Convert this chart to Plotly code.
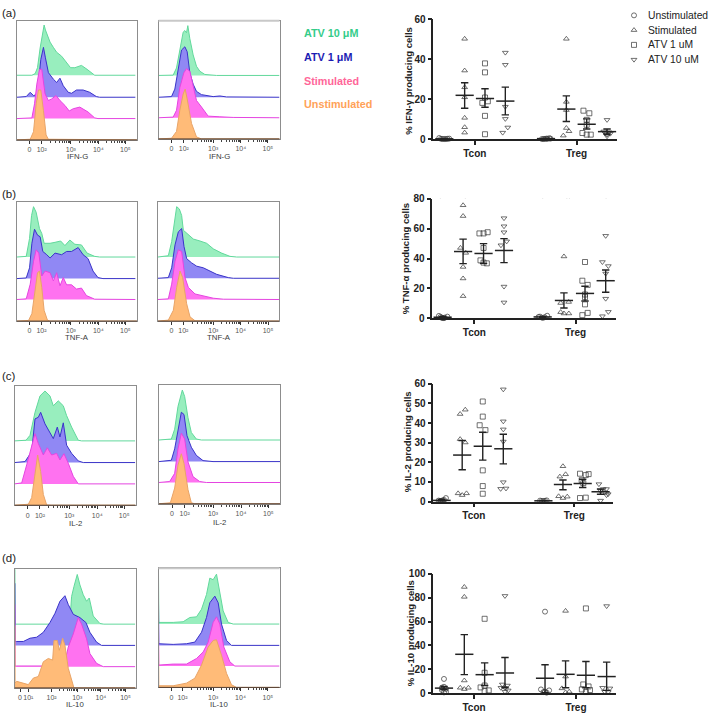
import plotly.graph_objects as go
import math

W, H = 709, 719
FONT = "Liberation Sans"
GROUPS = ["Unstimulated", "Stimulated", "ATV 1 uM", "ATV 10 uM"]
HIST_LABELS = ["ATV 10 μM", "ATV 1 μM", "Stimulated", "Unstimulated"]

# ---------- histogram data: channel (X) and normalised count (H) ----------
AL_G_X = [0,45,55,62,70,78,82,86,92,100,110,120,135,150,162,175,195,212,235,358]
AL_G_H = [0,0,5,23,83,135,153,138,123,101,85,70,58,38,23,23,30,18,0,0]
AL_B_X = [0,28,40,50,58,65,72,80,86,95,110,120,130,140,155,165,180,200,220,240,250,358]
AL_B_H = [0,2,15,5,8,45,115,152,120,75,55,45,58,35,15,12,22,22,15,2,0,0]
AL_P_X = [0,45,53,60,68,75,85,95,105,118,130,145,158,170,190,205,215,235,245,358]
AL_P_H = [0,2,45,105,150,150,75,55,60,70,55,40,23,30,35,27,20,2,0,0]
AL_O_X = [0,40,50,58,65,72,80,88,95,362]
AL_O_H = [0,2,25,110,152,152,90,15,2,0]

AR_G_X = [0,44,54,64,74,79,84,88,94,104,114,124,139,174,363]
AR_G_H = [0,1,23,83,133,138,131,153,113,63,28,13,3,0,0]
AR_B_X = [0,39,49,59,69,79,86,94,104,114,129,164,184,204,363]
AR_B_H = [0,2,25,90,145,155,140,75,40,18,8,2,4,1,0]
AR_P_X = [0,44,54,64,76,84,94,102,114,129,149,184,224,363]
AR_P_H = [0,2,23,93,138,151,143,108,53,33,5,3,1,0]
AR_O_X = [0,39,54,64,74,80,86,99,114,129,363]
AR_O_H = [0,2,23,88,138,153,123,48,6,0,0]

BL_G_X = [0,28,38,44,50,58,68,75,82,100,115,132,145,160,175,195,212,235,250,358]
BL_G_H = [0,2,57,127,154,137,87,72,42,42,45,49,35,52,39,37,12,2,0,0]
BL_B_X = [0,28,38,45,53,62,70,78,90,100,115,135,150,165,185,200,215,230,245,260,358]
BL_B_H = [0,2,33,108,151,133,128,83,73,63,78,73,83,83,95,73,61,23,3,0,0]
BL_P_X = [0,28,40,50,58,66,75,85,100,110,120,130,140,150,165,180,195,210,235,358]
BL_P_H = [0,2,47,117,152,142,72,87,82,57,82,42,67,45,45,32,35,12,1,0]
BL_O_X = [0,35,45,53,62,68,75,82,92,100,362]
BL_O_H = [0,2,23,83,148,153,103,33,3,0,0]

BR_G_X = [0,31,41,51,56,64,71,76,91,106,126,146,166,191,216,236,363]
BR_G_H = [0,4,47,127,154,147,127,82,67,55,49,42,25,12,2,0,0]
BR_B_X = [0,31,41,51,61,71,78,86,101,116,136,156,176,211,226,363]
BR_B_H = [0,2,32,102,142,152,97,60,47,37,32,22,12,2,0,0]
BR_P_X = [0,31,41,51,61,71,81,91,111,136,166,196,363]
BR_P_H = [0,2,47,117,152,147,67,37,17,12,4,1,0]
BR_O_X = [0,31,46,56,66,74,86,96,111,363]
BR_O_H = [0,3,33,103,153,133,53,13,1,0]

CL_G_X = [0,34,46,61,76,91,106,116,131,146,156,171,191,201,362]
CL_G_H = [0,2,17,87,137,152,137,107,122,107,77,42,2,0,0]
CL_B_X = [0,31,51,61,71,78,91,106,116,128,136,146,156,171,191,206,362]
CL_B_H = [0,3,33,133,138,153,118,93,73,108,78,121,53,28,5,0,0]
CL_P_X = [0,21,36,51,61,71,86,98,111,126,136,148,161,176,191,362]
CL_P_H = [0,3,58,118,153,123,88,110,88,93,73,92,63,23,0,0]
CL_O_X = [0,41,51,61,69,78,86,96,110,362]
CL_O_H = [0,3,23,93,153,103,33,1,0,0]

CR_G_X = [0,37,47,57,70,77,87,97,112,127,363]
CR_G_H = [0,3,33,103,153,133,68,23,3,0,0]
CR_B_X = [0,37,47,59,67,75,84,97,112,132,162,363]
CR_B_H = [0,4,39,104,151,144,79,44,19,3,0,0]
CR_P_X = [0,32,47,57,67,77,87,102,122,142,363]
CR_P_H = [0,3,28,103,151,133,63,18,3,0,0]
CR_O_X = [0,34,47,57,67,75,87,97,107,363]
CR_O_H = [0,3,48,118,153,123,43,3,0,0]

DL_G_X = [0,0,1,100,146,166,171,178,188,196,206,216,224,236,256,268,362]
DL_G_H = [0,190,0,0,2,10,85,115,152,120,90,70,80,25,2,0,0]
DL_B_X = [0,0,1,6,26,46,66,86,106,121,136,151,161,176,196,214,226,246,261,362]
DL_B_H = [0,190,12,12,12,22,25,40,70,98,135,152,125,95,85,70,40,10,0,0]
DL_P_X = [0,0,1,6,106,151,161,176,191,201,216,226,246,266,362]
DL_P_H = [0,190,2,2,2,15,60,100,150,130,85,40,10,0,0]
DL_O_X = [0,0,1,6,26,41,56,71,86,101,114,118,128,134,144,151,161,178,362]
DL_O_H = [0,190,15,20,15,10,30,35,80,90,85,145,145,115,152,130,60,0,0]

DR_G_X = [0,0,1,44,74,94,114,129,144,154,164,174,184,194,209,224,363]
DR_G_H = [0,160,5,5,7,20,22,45,90,140,135,152,100,40,5,0,0]
DR_B_X = [0,0,1,44,84,109,129,144,154,169,179,189,204,219,363]
DR_B_H = [0,130,5,3,5,10,40,85,130,150,130,65,15,0,0]
DR_P_X = [0,0,1,44,84,114,134,149,164,174,184,196,214,229,363]
DR_P_H = [0,130,3,6,6,23,43,73,133,150,128,58,13,0,0]
DR_O_X = [0,0,1,44,84,109,129,149,164,174,189,204,219,234,363]
DR_O_H = [0,130,5,5,13,28,68,123,143,145,98,43,8,0,0]

TICK_STD = ["0", "10²", "10³", "10⁴", "10⁵"]
TICK_DL = ["0", "10¹", "10²", "10³", "10⁴", "10⁵"]

# ---------- scatter data (% producing cells) ----------
A_VALS = [[0.6,0.2,0.1,0.1,0.1,0.2,0.3],[50.3,34.4,26,21,10.7,6,3.3],[38,33.5,20.9,19,18.2,11.7,2.5],[43.4,37.3,16.3,10.2,5.9,3.3],
          [0.1,0.1,0.2,0.3,0.2,0.5,0.3],[50.3,18.7,14.6,5.6,4,1.8],[14.3,13,9.7,7.2,3.1,2.3,2.3],[9.7,3.9,3.5,3.1,2.8,2.3,1.5]]
A_JIT = [[-0.25,-0.16,-0.08,0,0.08,0.16,0.24],[0,0,0,0,0,0,0],[0,0,0,0.14,-0.13,0,0],[0,0,0,0,0.12,-0.13],
         [-0.2,-0.12,-0.05,0.02,0.08,0.16,0.22],[0,0,0,0,0.13,-0.15],[-0.16,0.13,0,0,-0.21,0,0.2],[0,-0.16,0.1,-0.08,0.16,0,0]]
A_MEAN = [0.2,22,20.4,19.1,0.3,15.1,7.5,3.8]
A_UP = [0.3,28.3,25.3,26.1,0.4,21.7,10.2,5.1]
A_LO = [0.1,15.5,16,12.2,0.2,8.9,5.1,2.5]

B_VALS = [[1.7,1.0,0.5,0.3,0.2,0.5,1.2],[75.6,68.4,47.1,43.8,34.4,26.7,14.9],[56.8,56.8,57.6,47.1,38.8,37.3,36.8,9.2],[67,61.6,57.6,51.5,48.9,21.3,10.7],
          [1.0,1.2,0.3,0.8,1.8],[41.4,10.3,11,4.2,3.3,3.3],[37.7,25.2,22.4,16,14.2,9.4,2.2,3.7],[55.2,37.7,35,30,13.2,4.4,1.5]]
B_JIT = [[-0.18,-0.1,-0.05,0,0.06,0.1,0.23],[0,0,-0.13,0.13,0,0,0],[-0.2,0,0.2,0,-0.15,0,0.16],[0,0,0,0.13,-0.15,0,0],
         [-0.2,-0.13,0,0.1,0.22],[0,-0.16,0.23,-0.16,0,0.24],[0,-0.13,0.13,0,0,0,-0.13,0.13],[0,-0.16,0.13,0,0,0.13,-0.16]]
B_MEAN = [0.8,44.7,43.4,45.4,1.0,12,16.7,25.2]
B_UP = [1.2,53,50,53.3,1.4,17.1,21.5,32.4]
B_LO = [0.4,36.6,36.8,37.3,0.6,7,11.6,17.5]

C_VALS = [[0.5,0.4,0.3,0.5,0.6,0.8,1.8],[46.8,44.6,31.8,30.1,4.2,3.3,4.2],[51,43.3,38.9,36.4,15.9,7.9,4],[57.2,40.9,36.8,30.6,9.9,6.5,6.7],
          [0.5,0.3,0.3,0.4,0.6],[18,13.9,12.7,2.7,1.8,2.5],[14.2,13.5,14,10.9,9.4,1.8,2],[8.9,6.4,6.4,5.5,4.7,3.8,3.3,0.5]]
C_JIT = [[-0.15,-0.08,-0.03,0.02,0.07,0.12,0.21],[0.15,-0.1,-0.1,0.15,-0.2,0,0.21],[0,0,-0.15,0.13,0,0,0],[0,0,0,0,0,-0.13,0.13],
         [-0.16,-0.08,0,0.08,0.16],[0,0.13,-0.15,-0.21,0,0.21],[-0.13,0.15,0.29,-0.05,0.03,-0.13,0.15],[-0.08,0.13,0.29,0,0.21,0.37,0.29,0]]
C_MEAN = [0.6,23.7,28.2,26.9,0.4,8.7,9.2,5]
C_UP = [0.9,31.1,35.3,34.3,0.5,11,11.4,6.4]
C_LO = [0.3,16.2,21.1,19.2,0.3,6,7.2,3.7]

D_VALS = [[11.8,5.2,4.5,3.5,2.5,1,0.5],[89,80.7,10.5,4.4,3.3,4.4],[62.3,17,6.3,4.7,1.7,2.2],[81.5,7.2,6.3,4.4,4.4,2.2,1.1],
          [68.3,3,2.2,1.1,0.8,0.3],[68.9,13.8,3.9,1.1,0.5],[71,7.2,5.5,3,2.5,0.8],[73,4.4,3.9,1.1,0.8]]
D_JIT = [[0,0,-0.1,0.1,-0.1,0.1,0],[0,0,0,-0.2,0,0.2],[0,0,0,-0.2,0,0.2],[0,-0.13,0.12,-0.2,0,0.16,0],
         [0,-0.2,0.2,0,-0.08,0.08],[0,0,-0.18,0.18,0],[0,-0.13,0.13,-0.2,0.2,0],[0,-0.2,0.16,-0.1,0.08]]
D_MEAN = [4.1,32.5,15.4,16.8,12.4,15.7,14.9,13.8]
D_UP = [5.5,49,25.3,29.8,23.7,27,26.4,25.9]
D_LO = [2.8,15.4,6.3,4.4,0.3,4.4,4.4,2.2]

A_GX = [0,1,2,3,5,6,7,8]
B_GX = [0,1,2,3,4.89,5.93,6.96,7.97]
C_GX = [0,1,2,3,4.95,5.9,6.86,7.73]
D_GX = [0,1,2,3,4.97,5.98,6.98,8]

A_TICKS = [1.5,6.5]; B_TICKS = [1.55,6.5]; C_TICKS = [1.57,6.45]; D_TICKS = [1.48,6.49]
CELL_LABELS = ["Tcon","Treg"]

# ---------- styles / layout ----------
COL_FILL = ["#98EEBE","#9088F4","#FF72F0","#FFBB78"]
COL_LINE = ["#62D89C","#3A34C8","#E445E0","#E8A468"]
SYMS = ["circle-open","triangle-up-open","square-open","triangle-down-open"]
DARK = "#222222"

fig = go.Figure()
layout = {}
anns = []
shapes = []
axn = [0]

def new_axes(l, t, r, b):
    axn[0] += 1
    n = axn[0]
    xk, yk = ("xaxis%d" % n, "yaxis%d" % n) if n > 1 else ("xaxis", "yaxis")
    xr, yr = ("x%d" % n, "y%d" % n) if n > 1 else ("x", "y")
    layout[xk] = dict(domain=[l/W, r/W], anchor=yr)
    layout[yk] = dict(domain=[1-b/H, 1-t/H], anchor=xr)
    return xk, yk, xr, yr

def ann(px, py, text, size, color=DARK, bold=False, anchor="center", angle=0):
    anns.append(dict(x=px/W, y=1-py/H, xref="paper", yref="paper", text=text,
                     showarrow=False, xanchor=anchor, yanchor="middle", textangle=angle,
                     font=dict(family=FONT, size=size, color=color, weight="bold" if bold else "normal"),
                     borderpad=0, borderwidth=0))

def hist_panel(box, curves, bases, ticks, labels, title, title_y, top_light=False):
    l, t, r, b = box
    xk, yk, xr, yr = new_axes(l, t, r, b)
    for i, (cx, ch) in enumerate(curves):
        fig.add_trace(go.Scatter(x=cx, y=[bases[i]+v for v in ch], xaxis=xr, yaxis=yr, mode="lines",
                                 fill="toself", fillcolor=COL_FILL[i], line=dict(color=COL_LINE[i], width=1),
                                 showlegend=False, hoverinfo="skip", cliponaxis=True))
    minor = []
    for a, c in zip(ticks[-4:], ticks[-3:]):
        minor += [a + (c-a)*math.log10(k) for k in range(2, 10)]
    layout[xk].update(range=[0, 363], tickmode="array", tickvals=ticks, ticktext=labels, ticks="outside", tickangle=0,
                      ticklen=3, tickwidth=0.7, tickcolor="#333333", showline=True, linecolor="#8d8d8d", linewidth=1,
                      mirror=True, showgrid=False, zeroline=False,
                      tickfont=dict(family=FONT, size=7, color="#555555"),
                      minor=dict(tickmode="array", tickvals=minor, ticks="outside", ticklen=2, tickcolor="#444444", tickwidth=0.6))
    layout[yk].update(range=[0, 363], showticklabels=False, ticks="", showline=True, linecolor="#8d8d8d", linewidth=1,
                      mirror=True, showgrid=False, zeroline=False)
    shapes.append(dict(type="line", xref="paper", yref="paper", x0=l/W, x1=r/W, y0=1-b/H, y1=1-b/H,
                       line=dict(color="#5a4030", width=1)))
    if top_light:
        shapes.append(dict(type="line", xref="paper", yref="paper", x0=l/W, x1=r/W, y0=1-t/H, y1=1-t/H,
                           line=dict(color="#c8c8c8", width=2)))
    ann((l+r)/2, title_y, title, 7.8, "#3a3a3a")

def scatter_panel(box, xrange, ymax, ydtick, gx, vals, jit, mean, up, lo, ticks, brackets):
    l, t, r, b = box
    xk, yk, xr, yr = new_axes(l, t, r, b)
    for g in range(8):
        fig.add_trace(go.Scatter(x=[gx[g]+j for j in jit[g]], y=vals[g], xaxis=xr, yaxis=yr, mode="markers",
                                 marker=dict(symbol=SYMS[g % 4], size=5, color="#333333", line=dict(width=0.7, color="#333333")),
                                 showlegend=False, hoverinfo="skip", cliponaxis=False))
    fig.add_trace(go.Scatter(x=gx, y=mean, xaxis=xr, yaxis=yr, mode="markers",
                             marker=dict(symbol="line-ew", size=13, line=dict(width=1.5, color=DARK)),
                             error_y=dict(type="data", symmetric=False, array=[u-m for u, m in zip(up, mean)],
                                          arrayminus=[m-o for m, o in zip(mean, lo)], width=3.7, thickness=1.4, color=DARK),
                             showlegend=False, hoverinfo="skip", cliponaxis=False))
    for x1, x2, ytop, ydrop, stars, sx, sy in brackets:
        fig.add_trace(go.Scatter(x=[x1, x1, x2, x2], y=[ydrop, ytop, ytop, ydrop], xaxis=xr, yaxis=yr, mode="lines",
                                 line=dict(color="#555555", width=0.8), showlegend=False, hoverinfo="skip", cliponaxis=False))
        anns.append(dict(x=sx, y=sy, xref=xr, yref=yr, text=stars, showarrow=False, yanchor="middle",
                         font=dict(family=FONT, size=8.5, color=DARK, weight="bold")))
    layout[xk].update(range=xrange, tickmode="array", tickvals=ticks, ticktext=CELL_LABELS,
                      ticks="outside", ticklen=4, tickwidth=1.5, tickcolor=DARK, showline=True, linecolor=DARK, linewidth=1.5,
                      showgrid=False, zeroline=False, tickfont=dict(family=FONT, size=10, color=DARK, weight="bold"))
    layout[yk].update(range=[0, ymax], dtick=ydtick, tick0=0, ticks="outside", ticklen=4, tickwidth=1.5, tickcolor=DARK,
                      showline=True, linecolor=DARK, linewidth=1.5, showgrid=False, zeroline=False,
                      tickfont=dict(family=FONT, size=10, color=DARK, weight="bold"))

hist_panel((17,16,137,137), [(AL_G_X,AL_G_H),(AL_B_X,AL_B_H),(AL_P_X,AL_P_H),(AL_O_X,AL_O_H)], [197,130,65,0], [38,75,163,246,328], TICK_STD, "IFN-G", 154)
hist_panel((158.5,16,279.5,136), [(AR_G_X,AR_G_H),(AR_B_X,AR_B_H),(AR_P_X,AR_P_H),(AR_O_X,AR_O_H)], [195,128,65,0], [39,76,164,247,328], TICK_STD, "IFN-G", 154, top_light=True)
hist_panel((17,200.5,137,321), [(BL_G_X,BL_G_H),(BL_B_X,BL_B_H),(BL_P_X,BL_P_H),(BL_O_X,BL_O_H)], [196,130,66,0], [38,74,163,246,328], TICK_STD, "TNF-A", 338)
hist_panel((158,200.5,279,321), [(BR_G_X,BR_G_H),(BR_B_X,BR_B_H),(BR_P_X,BR_P_H),(BR_O_X,BR_O_H)], [196,131,66,0], [40,76,166,248,330], TICK_STD, "TNF-A", 338)
hist_panel((14.7,387,135.5,508), [(CL_G_X,CL_G_H),(CL_B_X,CL_B_H),(CL_P_X,CL_P_H),(CL_O_X,CL_O_H)], [196,130,65,0], [39,76,164,248,329], TICK_STD, "IL-2", 527)
hist_panel((159,386,280,506.5), [(CR_G_X,CR_G_H),(CR_B_X,CR_B_H),(CR_P_X,CR_P_H),(CR_O_X,CR_O_H)], [195,129,65,0], [39,77,162,246,328], TICK_STD, "IL-2", 526)
hist_panel((14.7,573,135.5,693.5), [(DL_G_X,DL_G_H),(DL_B_X,DL_B_H),(DL_P_X,DL_P_H),(DL_O_X,DL_O_H)], [195,130,65,0], [16,41,111,188,259,333], TICK_DL, "IL-10", 710)
hist_panel((158.5,572,279.5,693), [(DR_G_X,DR_G_H),(DR_B_X,DR_B_H),(DR_P_X,DR_P_H),(DR_O_X,DR_O_H)], [193,128,65,0], [39,72,164,246,328], TICK_STD, "IL-10", 710, top_light=True)

scatter_panel((433.3,14.7,616.7,136.3), [-0.541,8.475], 60, 20, A_GX, A_VALS, A_JIT, A_MEAN, A_UP, A_LO, A_TICKS,
              [(-0.08,0.885,62.1,60.7,"****",0.4,63.6),(5.08,6.05,62.1,60.7,"*",5.57,63.6),(6.23,7.85,62.1,60.7,"*",7.08,63.6)])
scatter_panel((432.3,196.7,615.7,318.3), [-0.505,8.46], 80, 20, B_GX, B_VALS, B_JIT, B_MEAN, B_UP, B_LO, B_TICKS,
              [(-0.11,1.11,82,80,"****",0.55,84),(4.89,6.07,82,80,"*",5.55,84),(6.2,7.99,82,80,"*",6.96,84)])
scatter_panel((433.3,384.7,612.7,504.3), [-0.405,8.32], 60, 10, C_GX, C_VALS, C_JIT, C_MEAN, C_UP, C_LO, C_TICKS,
              [(-0.06,0.92,61.8,60.5,"****",0.52,63.5),(5.09,6.06,61.8,60.5,"**",5.63,63.5)])
scatter_panel((433.3,577.7,616,698.7), [-0.525,8.46], 100, 20, D_GX, D_VALS, D_JIT, D_MEAN, D_UP, D_LO, D_TICKS,
              [(-0.05,1.07,103.6,101,"*",0.54,106.5)])

# legend markers on their own small axes
xk, yk, xr, yr = new_axes(628, 3, 640, 63)
LEG_ORDER = [4, 3, 2, 1]
for i, g in enumerate(GROUPS):
    fig.add_trace(go.Scatter(x=[0], y=[LEG_ORDER[i]], xaxis=xr, yaxis=yr, mode="markers", showlegend=False, hoverinfo="skip",
                             marker=dict(symbol=SYMS[i], size=5, color="#333333", line=dict(width=0.7, color="#333333")), cliponaxis=False))
layout[xk].update(range=[-1, 1], visible=False)
layout[yk].update(range=[0.5, 4.5], visible=False)
for py, g in zip([10.3, 25.7, 40, 55], GROUPS):
    ann(648, py, g, 10.3, "#222222", anchor="left")

# histogram key
for py, txt, col in zip([28.3, 53.3, 77, 101], HIST_LABELS, ["#35CC8A", "#1C1CB4", "#FF6699", "#FFA258"]):
    ann(304, py, txt, 10.8, col, bold=True, anchor="left")

# panel letters
for py, txt in zip([8, 191.7, 376.7, 561.7], ["(a)", "(b)", "(c)", "(d)"]):
    ann(2, py, txt, 11.5, "#222222", anchor="left")

# y titles
ann(409, 77, "% IFN-γ producing cells", 9.5, DARK, bold=True, angle=-90)
ann(405.7, 257.5, "% TNF-α producing cells", 9.5, DARK, bold=True, angle=-90)
ann(407, 444, "% IL-2 producing cells", 9.5, DARK, bold=True, angle=-90)
ann(410, 638, "% IL-10 producing cells", 9.5, DARK, bold=True, angle=-90)

fig.update_layout(width=W, height=H, margin=dict(l=0, r=0, t=0, b=0), paper_bgcolor="white", plot_bgcolor="white",
                  showlegend=False, annotations=anns, shapes=shapes, font=dict(family=FONT), **layout)
fig.write_html("out.html", config=dict(displayModeBar=False),
               post_script="document.body.style.margin='0';document.documentElement.style.overflow='hidden';")
